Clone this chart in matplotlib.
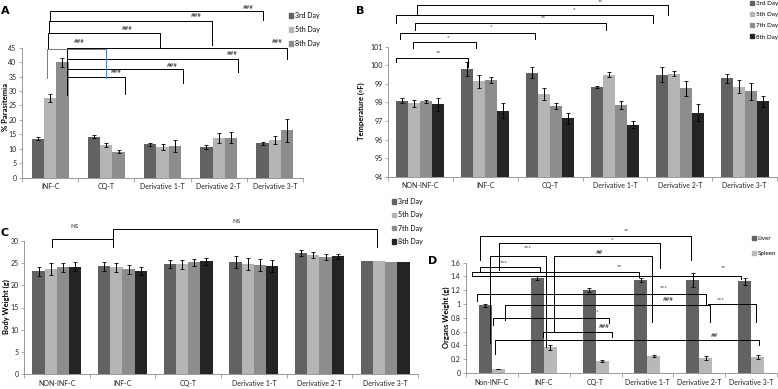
import numpy as np
import matplotlib.pyplot as plt
from matplotlib.patches import Patch
from matplotlib.ticker import FixedLocator

plt.rcParams['font.family'] = ['Lato', 'DejaVu Sans']
plt.rcParams['font.size'] = 5

# ---------------- data ----------------
# A: % parasitemia
a_groups = ['INF-C', 'CQ-T', 'Derivative 1-T', 'Derivative 2-T', 'Derivative 3-T']
a_days = ['3rd Day', '5th Day', '8th Day']
a_vals = [[13.5, 14.2, 11.5, 10.7, 11.9],
          [27.6, 11.3, 10.6, 13.8, 13.0],
          [40.0, 9.0, 11.0, 13.8, 16.4]]
a_errs = [[0.6, 0.6, 0.6, 0.6, 0.6],
          [1.5, 0.7, 0.9, 1.8, 1.5],
          [1.6, 0.6, 2.0, 1.9, 4.0]]

# B: temperature
b_groups = ['NON-INF-C', 'INF-C', 'CQ-T', 'Derivative 1-T', 'Derivative 2-T', 'Derivative 3-T']
b_days = ['3rd Day', '5th Day', '7th Day', '8th Day']
b_vals = [[98.1, 99.8, 99.6, 98.85, 99.5, 99.3],
          [97.95, 99.15, 98.45, 99.5, 99.55, 98.85],
          [98.05, 99.2, 97.8, 97.85, 98.75, 98.6],
          [97.9, 97.55, 97.15, 96.8, 97.45, 98.05]]
b_errs = [[0.15, 0.4, 0.3, 0.05, 0.4, 0.25],
          [0.2, 0.35, 0.3, 0.12, 0.15, 0.35],
          [0.1, 0.15, 0.15, 0.2, 0.4, 0.45],
          [0.35, 0.4, 0.3, 0.2, 0.45, 0.3]]

# C: body weight
c_groups = ['NON-INF-C', 'INF-C', 'CQ-T', 'Derivative 1-T', 'Derivative 2-T', 'Derivative 3-T']
c_days = ['3rd Day', '5th Day', '7th Day', '8th Day']
c_vals = [[23.1, 24.3, 24.7, 25.2, 27.3, 25.5],
          [23.6, 24.0, 24.7, 24.8, 26.8, 25.4],
          [24.0, 23.6, 25.2, 24.5, 26.4, 25.3],
          [24.2, 23.1, 25.4, 24.3, 26.5, 25.2]]
c_errs = [[1.0, 1.0, 0.9, 1.3, 0.7, 0],
          [1.3, 1.0, 1.0, 1.4, 0.7, 0],
          [1.1, 1.0, 0.8, 1.3, 0.7, 0],
          [1.1, 0.9, 0.8, 1.3, 0.6, 0]]

# D: organ weight
d_groups = ['Non-INF-C', 'INF-C', 'CQ-T', 'Derivative 1-T', 'Derivative 2-T', 'Derivative 3-T']
d_organs = ['Liver', 'Spleen']
d_vals = [[0.98, 1.38, 1.20, 1.35, 1.35, 1.33],
          [0.06, 0.37, 0.17, 0.25, 0.22, 0.23]]
d_errs = [[0.02, 0.03, 0.03, 0.03, 0.1, 0.05],
          [0.005, 0.04, 0.015, 0.015, 0.03, 0.03]]

# significance brackets: (x1, x2, y, y_left_end, y_right_end, label, label_x, label_y)
a_brackets = [
    (0.0, 3.79, 57.7, 54.2, 54.6, '###', 3.52, 59.0),
    (-0.02, 2.88, 54.2, 50.1, 45.9, '###', 2.6, 56.0),
    (-0.04, 1.96, 50.1, 44.5, 44.9, '###', 1.38, 51.8),
    (0.3, 4.21, 44.9, 28.6, 41.0, '###', 4.04, 47.0),
    (0.3, 3.34, 41.1, 41.1, 36.6, '###', 3.25, 43.1),
    (0.3, 2.36, 37.6, 37.6, 32.8, '###', 2.18, 39.0),
    (0.3, 1.34, 34.8, 34.8, 29.0, '###', 1.18, 36.6),
]
a_blue = (-0.05, 1.0, 44.5, 34.5, 34.5, '###', 0.52, 47.0)

b_brackets = [
    (-0.05, 3.82, 103.25, 102.7, 102.7, '**', 2.78, 103.4),
    (-0.37, 3.58, 102.7, 102.28, 102.28, '*', 2.37, 103.0),
    (-0.08, 2.86, 102.28, 101.9, 101.9, '**', 1.9, 102.55),
    (-0.31, 1.77, 101.74, 101.41, 101.41, '*', 1.08, 102.06),
    (-0.11, 0.86, 101.25, 100.93, 100.93, '*', 0.42, 101.47),
    (-0.37, 0.74, 100.39, 100.18, 99.9, '**', 0.28, 100.7),
]

c_brackets = [
    (-0.08, 0.85, 30.4, 28.6, 28.6, 'NS', 0.27, 33.1),
    (0.85, 4.87, 32.6, 28.6, 28.6, 'NS', 2.74, 34.4),
]

d_brackets = [
    (-0.23, 3.85, 1.99, 1.64, 1.64, '**', 2.6, 2.07),
    (0.13, 3.25, 1.88, 1.49, 1.52, '*', 2.31, 1.93),
    (-0.03, 1.05, 1.69, 0.44, 0.37, '***', 0.69, 1.81),
    (1.2, 3.08, 1.69, 0.6, 0.74, '##', 2.07, 1.75),
    (-0.23, 0.92, 1.54, 1.46, 1.46, '***', 0.23, 1.6),
    (-0.38, 2.83, 1.46, 1.40, 1.39, '**', 2.45, 1.54),
    (-0.38, 4.8, 1.40, 1.40, 1.36, '**', 4.46, 1.52),
    (-0.29, 4.13, 1.14, 1.04, 0.99, '***', 3.31, 1.24),
    (0.25, 4.2, 0.99, 0.77, 0.74, '###', 3.4, 1.06),
    (4.17, 5.09, 1.0, 1.0, 0.74, '***', 4.42, 1.06),
    (0.02, 2.26, 0.79, 0.7, 0.72, '*', 2.03, 0.89),
    (0.99, 2.32, 0.6, 0.52, 0.52, '###', 2.17, 0.68),
    (0.06, 5.16, 0.48, 0.27, 0.4, '##', 4.3, 0.54),
]

day_colors = {'3rd Day': '#626262', '5th Day': '#b5b5b5', '7th Day': '#8d8d8d', '8th Day': '#242424'}
a_colors = ['#626262', '#b5b5b5', '#8d8d8d']
organ_colors = ['#626262', '#b8b8b8']

W, H = 778, 389


def px_axes(left, right, top, bottom):
    return fig.add_axes([left / W, 1 - bottom / H, (right - left) / W, (bottom - top) / H])


def style(ax, groups, ylim, yticks):
    n = len(groups)
    ax.set_xlim(-0.5, n - 0.5)
    ax.set_ylim(*ylim)
    ax.set_yticks(yticks)
    ax.set_xticks(np.arange(n))
    ax.set_xticklabels(groups, fontsize=5, color='#222222')
    ax.xaxis.set_minor_locator(FixedLocator(np.arange(-0.5, n, 1.0)))
    ax.tick_params(axis='x', which='major', length=0, pad=4)
    ax.tick_params(axis='x', which='minor', length=3, width=0.5, color='#888888')
    ax.tick_params(axis='y', length=2, width=0.5, color='#888888', labelsize=5, pad=2, labelcolor='#222222')
    for s in ['top', 'right']:
        ax.spines[s].set_visible(False)
    for s in ['left', 'bottom']:
        ax.spines[s].set_color('#888888')
        ax.spines[s].set_linewidth(0.6)


def draw_brackets(ax, brackets, color='black'):
    for x1, x2, y, yl, yr, lab, lx, ly in brackets:
        ax.plot([x1, x1, x2, x2], [yl, y, y, yr], color=color, lw=0.7, clip_on=False)
        ax.text(lx, ly, lab, ha='center', va='center', fontsize=4.5, clip_on=False, color='#222222')


def grouped_bars(ax, vals, errs, colors, width):
    n = len(vals)
    x = np.arange(len(vals[0]))
    for i, (v, e, c) in enumerate(zip(vals, errs, colors)):
        off = (i - (n - 1) / 2) * width
        ax.bar(x + off, v, width, color=c, zorder=2)
        e = np.array(e)
        m = e > 0
        ax.errorbar((x + off)[m], np.array(v)[m], yerr=e[m], fmt='none', ecolor='black',
                    elinewidth=0.7, capsize=1.3, capthick=0.6, zorder=3)


def small_legend(ax, labels, colors, x, y, spacing, size=5):
    handles = [Patch(color=c, label=l) for l, c in zip(labels, colors)]
    ax.legend(handles=handles, loc='upper left', bbox_to_anchor=(x / W, 1 - y / H),
              bbox_transform=fig.transFigure, frameon=False, fontsize=size,
              handlelength=0.6, handleheight=0.6, handletextpad=0.3,
              labelspacing=spacing, borderpad=0, borderaxespad=0)


fig = plt.figure(figsize=(W / 100, H / 100), dpi=100)

# ---------------- panel A ----------------
axA = px_axes(22, 303, 47.7, 177.7)
grouped_bars(axA, a_vals, a_errs, a_colors, 0.22)
style(axA, a_groups, (0, 45), np.arange(0, 46, 5))
draw_brackets(axA, a_brackets)
draw_brackets(axA, [a_blue], color='#4f81bd')
small_legend(axA, a_days, a_colors, 289, 12, 1.0)

# ---------------- panel B ----------------
axB = px_axes(388, 777, 46.7, 176.7)
grouped_bars(axB, b_vals, b_errs, [day_colors[d] for d in b_days], 0.185)
style(axB, b_groups, (94, 101), np.arange(94, 102, 1))
draw_brackets(axB, b_brackets)
small_legend(axB, b_days, [day_colors[d] for d in b_days], 750, 1, 0.95, size=4.5)

# ---------------- panel C ----------------
axC = px_axes(24, 418, 240.7, 374.3)
grouped_bars(axC, c_vals, c_errs, [day_colors[d] for d in c_days], 0.186)
style(axC, c_groups, (0, 30), np.arange(0, 31, 5))
draw_brackets(axC, c_brackets)
small_legend(axC, c_days, [day_colors[d] for d in c_days], 392, 198, 0.9)

# ---------------- panel D ----------------
axD = px_axes(466, 777, 262.6, 373)
grouped_bars(axD, d_vals, d_errs, organ_colors, 0.25)
style(axD, d_groups, (0, 1.6), np.arange(0, 1.61, 0.2))
axD.yaxis.set_major_formatter(plt.FuncFormatter(lambda v, p: ('%.1f' % v).rstrip('0').rstrip('.')))
draw_brackets(axD, d_brackets)
small_legend(axD, d_organs, organ_colors, 752, 236, 1.5, size=4.5)

# ---------------- labels ----------------
for lab, x, y in [('A', 5, 11), ('B', 360, 11), ('C', 5, 233), ('D', 433, 261)]:
    fig.text(x / W, 1 - y / H, lab, fontsize=8, fontweight='bold', family='DejaVu Sans',
             ha='center', va='center')

for lab, x, y in [('% Parasitemia', 6, 107), ('Temperature (\u25e6F)', 361, 111),
                  ('Body Weight (g)', 6, 307), ('Organs Weight (g)', 446, 317)]:
    fig.text(x / W, 1 - y / H, lab, fontsize=5.5, fontweight='bold', rotation=90,
             ha='center', va='center')

plt.savefig('out.png', dpi=100)
